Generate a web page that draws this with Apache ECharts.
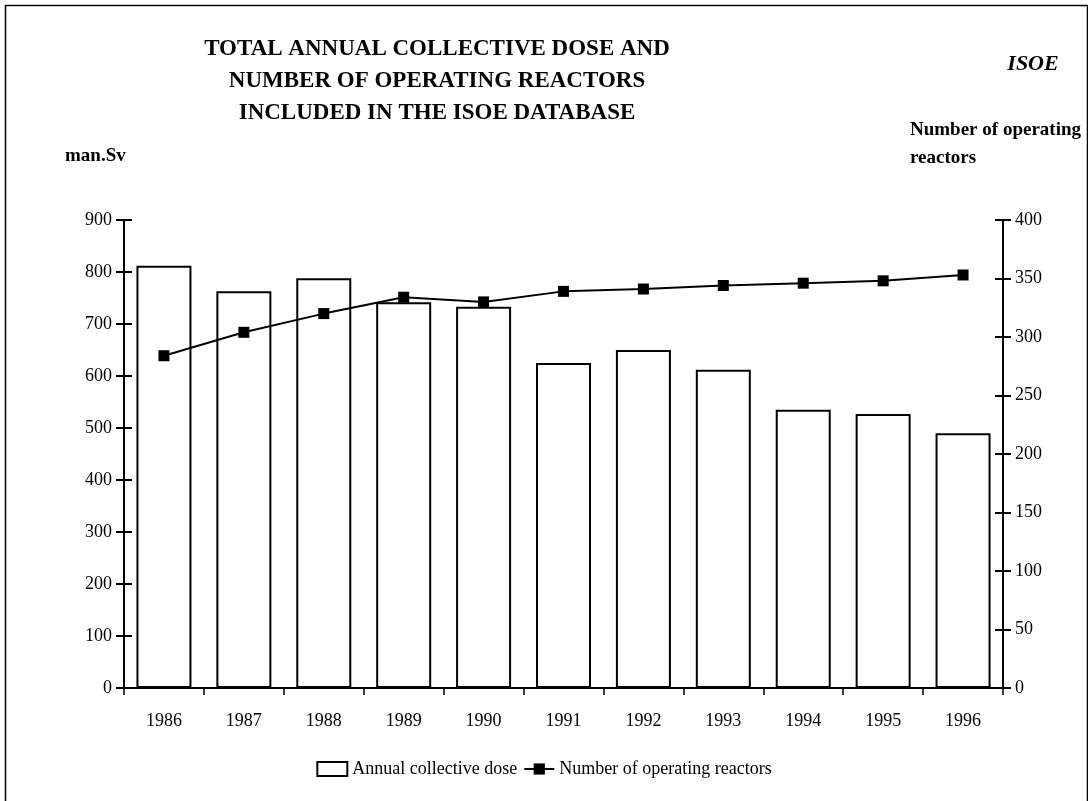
<!DOCTYPE html>
<html>
<head>
<meta charset="utf-8">
<script src="https://cdn.jsdelivr.net/npm/echarts@6/dist/echarts.min.js"></script>
<style>
  html, body { margin: 0; padding: 0; background: #fff; }
  #chart { width: 1088px; height: 801px; }
</style>
</head>
<body>
<div id="chart"></div>
<script>
// data
const years = ["1986", "1987", "1988", "1989", "1990", "1991", "1992", "1993", "1994", "1995", "1996"];
const annualDose = [812, 763, 788, 742, 733, 625, 650, 612, 535, 527, 490];
const reactors = [284, 304, 320, 334, 330, 339, 341, 344, 346, 348, 353];
const leftTicks = { min: 0, max: 900, interval: 100 };
const rightTicks = { min: 0, max: 400, interval: 50 };

const chart = echarts.init(document.getElementById("chart"));
const serif = "'Liberation Serif', 'DejaVu Serif', serif";
const black = "#000";

const grid = { left: 124, right: 85, top: 220, bottom: 113 };

// ticks in the reference cross the axis line, so each axis is drawn twice
// (once with outside ticks + labels, once with inside ticks only)
function yAx(pos, t, inside, showLabel) {
  return {
    type: "value",
    position: pos,
    min: t.min,
    max: t.max,
    interval: t.interval,
    splitLine: { show: false },
    axisLine: { show: true, lineStyle: { color: black, width: 2 } },
    axisTick: { show: true, inside: inside, length: 8, lineStyle: { color: black, width: 2 } },
    axisLabel: {
      show: showLabel,
      color: black,
      fontFamily: serif,
      fontSize: 18,
      margin: 12,
    },
  };
}

function xAx(inside, showLabel) {
  return {
    type: "category",
    data: years,
    boundaryGap: true,
    axisLine: { show: true, lineStyle: { color: black, width: 2 } },
    axisTick: { show: true, inside: inside, length: 7, lineStyle: { color: black, width: 1.5 } },
    axisLabel: {
      show: showLabel,
      color: black,
      fontFamily: serif,
      fontSize: 18,
      margin: 24,
    },
  };
}

const option = {
  backgroundColor: "#fff",
  animation: false,
  title: [
    {
      text: "TOTAL ANNUAL COLLECTIVE DOSE AND\nNUMBER OF OPERATING REACTORS\nINCLUDED IN THE ISOE DATABASE",
      left: 432,
      top: 28,
      textAlign: "center",
      textStyle: { fontFamily: serif, fontWeight: "bold", fontSize: 23, lineHeight: 32, color: black },
    },
    {
      text: "ISOE",
      left: 1028,
      top: 48,
      textAlign: "center",
      textStyle: { fontFamily: serif, fontWeight: "bold", fontStyle: "italic", fontSize: 22, color: black },
    },
    {
      text: "man.Sv",
      left: 60,
      top: 142,
      textStyle: { fontFamily: serif, fontWeight: "bold", fontSize: 19, color: black },
    },
    {
      text: "Number of operating\nreactors",
      left: 905,
      top: 111,
      textStyle: { fontFamily: serif, fontWeight: "bold", fontSize: 19, lineHeight: 28, color: black },
    },
  ],
  graphic: [
    {
      type: "rect",
      left: 3,
      top: 3,
      shape: { width: 1082, height: 820 },
      style: { fill: null, stroke: black, lineWidth: 1.5 },
      silent: true,
    },
  ],
  legend: {
    bottom: 18,
    left: "center",
    itemGap: 6,
    itemWidth: 30,
    itemHeight: 14,
    textStyle: { fontFamily: serif, fontSize: 18, color: black },
    data: [
      { name: "Annual collective dose", icon: "rect" },
      { name: "Number of operating reactors" },
    ],
  },
  grid: grid,
  xAxis: [xAx(false, true), xAx(true, false)],
  yAxis: [
    yAx("left", leftTicks, false, true),
    yAx("right", rightTicks, false, true),
    yAx("left", leftTicks, true, false),
    yAx("right", rightTicks, true, false),
  ],
  series: [
    {
      name: "Annual collective dose",
      type: "bar",
      xAxisIndex: 0,
      yAxisIndex: 0,
      data: annualDose,
      barWidth: 55,
      itemStyle: { color: "#fff", borderColor: black, borderWidth: 2 },
    },
    {
      name: "Number of operating reactors",
      type: "line",
      xAxisIndex: 0,
      yAxisIndex: 1,
      data: reactors,
      symbol: "rect",
      symbolSize: 11,
      lineStyle: { color: black, width: 2 },
      itemStyle: { color: black },
      z: 5,
    },
  ],
};

chart.setOption(option);
</script>
</body>
</html>
